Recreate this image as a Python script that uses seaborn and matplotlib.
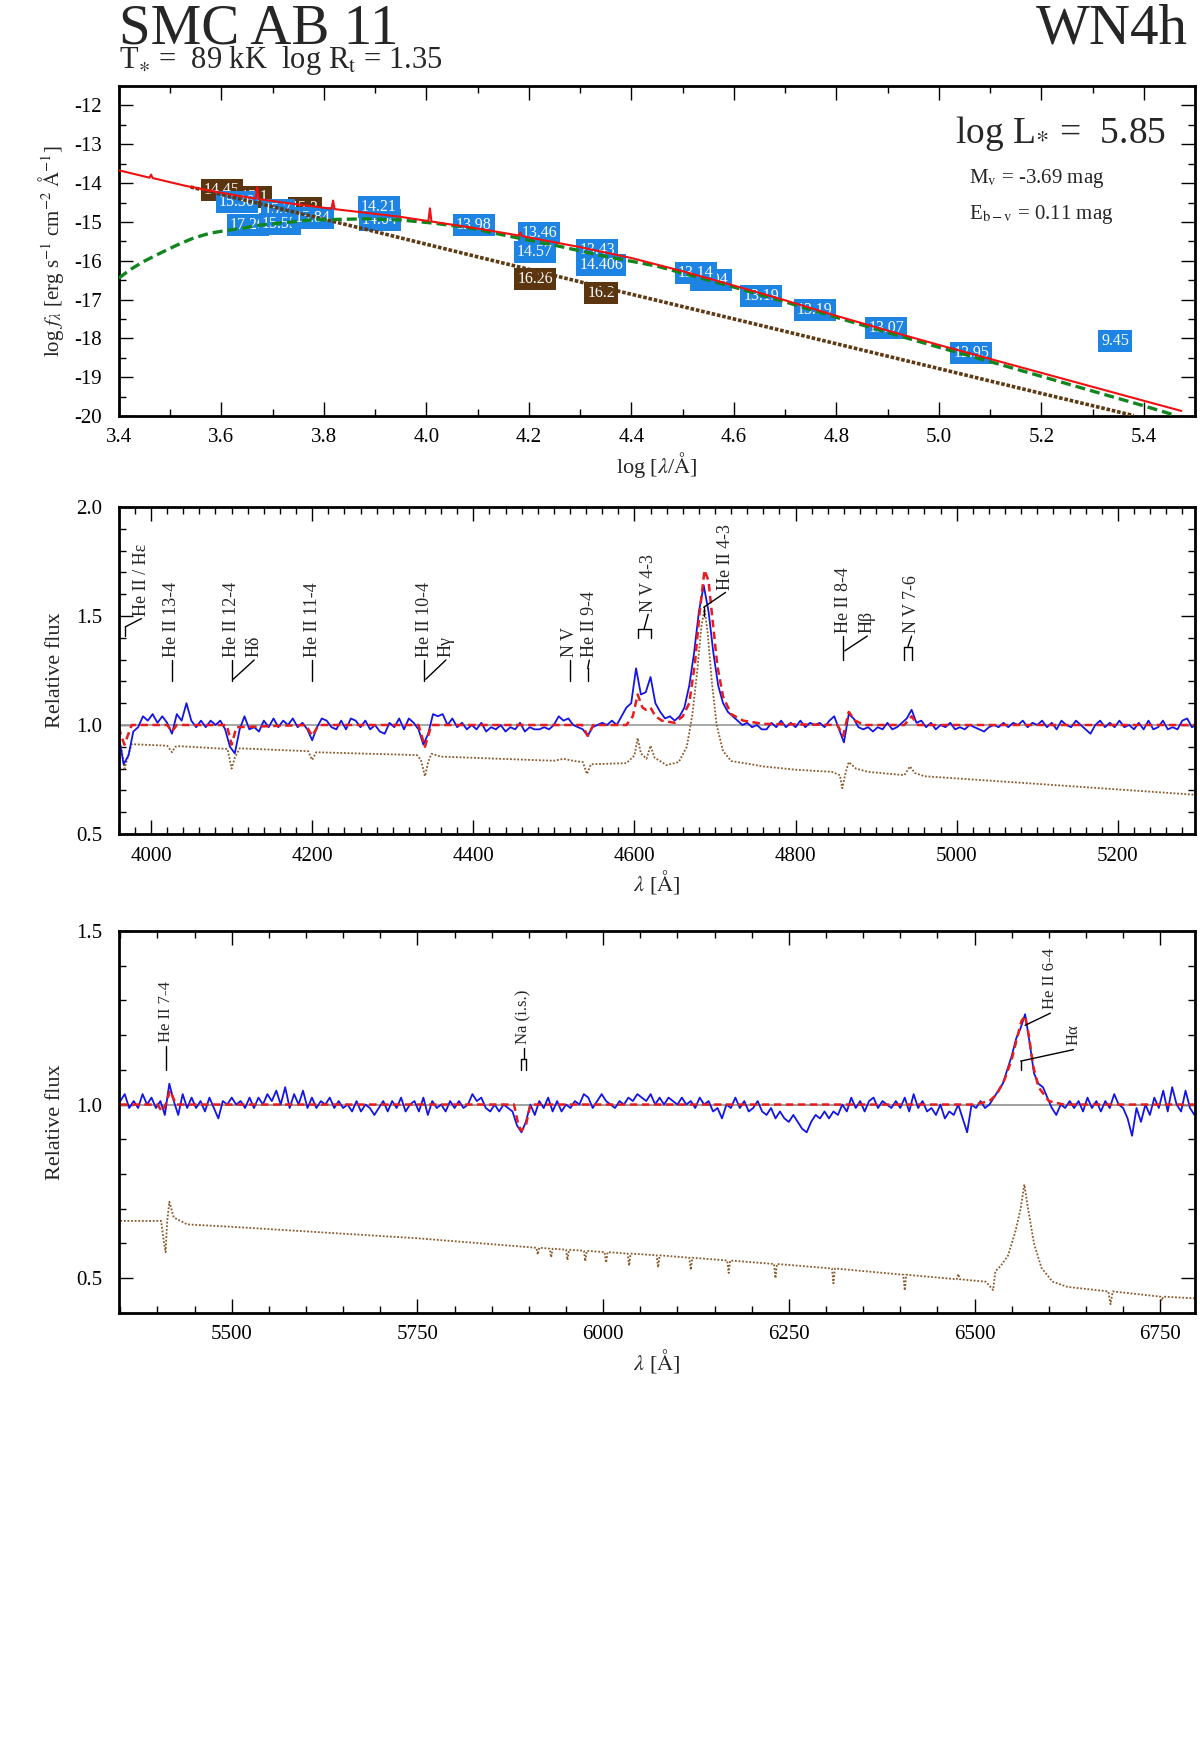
import numpy as np
import pandas as pd
import matplotlib
matplotlib.use("Agg")
import matplotlib.pyplot as plt
from matplotlib.ticker import MultipleLocator
import seaborn as sns

# ---------------- top panel: SED ----------------
red_logl = [3.40, 3.46, 3.463, 3.466, 3.53, 3.60, 3.667, 3.670, 3.673, 3.72, 3.815, 3.818,
            3.821, 3.95, 4.00, 4.004, 4.007, 4.010, 4.10, 4.18, 4.183, 4.186, 4.20, 4.30,
            4.40, 4.50, 4.60, 4.70, 4.80, 4.90, 5.00, 5.10, 5.20, 5.30, 5.40, 5.473]
red_logf = [-13.67, -13.86, -13.78, -13.87, -14.07, -14.25, -14.40, -14.10, -14.41, -14.50, -14.66, -14.45,
            -14.67, -14.87, -14.97, -14.98, -14.65, -14.99, -15.17, -15.35, -15.27, -15.36, -15.40, -15.65,
            -15.93, -16.27, -16.64, -17.02, -17.42, -17.80, -18.17, -18.53, -18.89, -19.25, -19.61, -19.87]

green_logl = [3.40, 3.421, 3.447, 3.48, 3.513, 3.545, 3.578, 3.61, 3.643, 3.676, 3.708, 3.773,
              3.884, 3.95, 4.013, 4.079, 4.177, 4.25, 4.339, 4.45, 4.60, 4.70, 4.80, 4.90,
              5.00, 5.10, 5.20, 5.30, 5.40, 5.46]
green_logf = [-16.45, -16.24, -16.03, -15.81, -15.60, -15.42, -15.29, -15.22, -15.16, -15.08, -15.04, -14.95,
              -14.92, -14.95, -15.03, -15.14, -15.41, -15.60, -15.86, -16.14, -16.68, -17.06, -17.46, -17.85,
              -18.23, -18.60, -18.98, -19.36, -19.74, -19.98]

brown_logl = [3.54, 3.70, 3.90, 4.10, 4.336, 4.60, 4.80, 5.00, 5.20, 5.38]
brown_logf = [-14.10, -14.61, -15.25, -15.90, -16.66, -17.50, -18.14, -18.78, -19.42, -19.99]

# photometry boxes (magnitudes), in draw order
box_logl = [3.601, 3.665, 3.630, 3.763, 3.710, 3.652, 3.714, 3.779, 3.909, 3.907, 4.093,
            4.220, 4.212, 4.212, 4.333, 4.341, 4.341, 4.555, 4.526, 4.653, 4.758, 4.897,
            5.063, 5.344]
box_logf = [-14.18, -14.36, -14.49, -14.64, -14.69, -15.08, -15.05, -14.90, -14.95, -14.62, -15.08,
            -15.29, -15.78, -16.47, -15.72, -16.11, -16.83, -16.50, -16.32, -16.91, -17.27, -17.73,
            -18.38, -18.07]
box_txt = ["14.45", "15.1", "15.36", "15.2", "15.7", "17.26", "15.55", "15.84", "14.04", "14.21", "13.98",
           "13.46", "14.57", "16.26", "13.43", "14.406", "16.2", "13.04", "13.14", "13.19", "13.19", "13.07",
           "12.95", "9.45"]
box_kind = ["b", "b", "o", "b", "o", "o", "o", "o", "o", "o", "o",
            "o", "o", "b", "o", "o", "b", "o", "o", "o", "o", "o",
            "o", "o"]

# ---------------- middle panel: 3960-5300 A ----------------
mid_start, mid_step = 3960, 6
mid_obs = [0.95, 0.82, 0.86, 0.97, 0.99, 1.04, 1.02, 1.05, 1.01, 1.04,
           1.01, 0.96, 1.05, 1.02, 1.10, 1.02, 0.99, 1.02, 0.99, 1.02,
           1.00, 1.02, 0.98, 0.90, 0.87, 0.98, 1.04, 0.98, 0.99, 0.97,
           1.02, 0.99, 1.03, 0.99, 1.02, 1.00, 1.03, 0.99, 1.01, 0.98,
           0.93, 0.99, 1.03, 1.02, 0.99, 0.98, 1.02, 0.98, 1.03, 1.02,
           0.99, 1.02, 0.98, 1.00, 0.97, 0.96, 1.01, 0.99, 1.03, 0.98,
           1.03, 1.01, 0.98, 0.91, 0.96, 1.05, 1.04, 1.05, 1.00, 1.03,
           0.99, 1.01, 0.98, 1.00, 0.98, 1.01, 0.97, 0.99, 0.98, 1.00,
           0.97, 0.99, 0.98, 1.01, 0.97, 0.99, 0.98, 0.98, 0.99, 0.98,
           1.00, 1.04, 1.02, 1.03, 1.00, 0.99, 0.98, 0.95, 0.99, 1.00,
           1.01, 1.00, 1.02, 1.00, 1.04, 1.08, 1.10, 1.26, 1.14, 1.15,
           1.22, 1.10, 1.06, 1.03, 1.04, 1.02, 1.04, 1.08, 1.18, 1.33,
           1.52, 1.64, 1.52, 1.33, 1.18, 1.10, 1.06, 1.04, 1.02, 1.00,
           1.01, 0.99, 1.00, 0.98, 0.98, 1.01, 0.99, 1.02, 0.99, 1.01,
           0.99, 1.02, 0.99, 1.01, 1.00, 1.01, 0.99, 1.02, 1.04, 0.98,
           0.92, 1.05, 1.03, 0.99, 0.98, 0.99, 0.97, 0.99, 0.98, 1.01,
           0.98, 0.99, 1.01, 1.03, 1.07, 1.01, 1.02, 0.99, 1.01, 0.98,
           1.00, 0.99, 1.01, 0.98, 0.99, 0.98, 1.00, 0.99, 0.98, 0.97,
           0.99, 1.00, 0.99, 1.01, 0.99, 1.01, 1.00, 1.02, 0.99, 1.01,
           1.00, 1.02, 0.99, 1.01, 0.98, 1.02, 1.00, 0.99, 1.02, 1.00,
           0.98, 0.96, 1.00, 1.02, 0.99, 1.01, 0.99, 1.02, 0.99, 1.00,
           0.98, 1.01, 0.98, 1.02, 0.98, 0.99, 1.02, 0.98, 0.99, 0.98,
           1.02, 1.03, 0.99, 1.00]

mid_mod_wl = [3960, 3963, 3967, 3971, 3976, 4020, 4026, 4032, 4094, 4100, 4106, 4192, 4200,
              4208, 4332, 4340, 4348, 4535, 4542, 4549, 4590, 4598, 4604, 4610, 4614, 4620,
              4626, 4634, 4650, 4660, 4668, 4675, 4681, 4687, 4692, 4697, 4703, 4710, 4720,
              4735, 4760, 4852, 4859, 4866, 4874, 4885, 4935, 4944, 4952, 5296]
mid_mod_f = [0.99, 0.95, 0.91, 0.95, 1.0, 1.0, 0.97, 1.0, 1.0, 0.91, 0.99, 1.0, 0.95,
             1.0, 1.0, 0.90, 1.0, 1.0, 0.95, 1.0, 1.0, 1.04, 1.14, 1.08, 1.07, 1.08,
             1.04, 1.02, 1.01, 1.04, 1.10, 1.28, 1.52, 1.71, 1.66, 1.48, 1.27, 1.13, 1.05,
             1.02, 1.005, 1.0, 0.95, 1.06, 1.02, 1.0, 1.0, 1.04, 1.0, 1.0]

mid_star_wl = [3960, 3963, 3967, 3971, 3976, 4020, 4023, 4026, 4030, 4035, 4095, 4100, 4104,
               4110, 4195, 4200, 4205, 4330, 4335, 4340, 4344, 4348, 4360, 4500, 4512, 4525,
               4536, 4541, 4546, 4590, 4600, 4604, 4608, 4615, 4620, 4625, 4640, 4655, 4665,
               4672, 4678, 4683, 4687, 4691, 4696, 4702, 4710, 4720, 4760, 4800, 4845, 4855,
               4858, 4862, 4866, 4875, 4890, 4935, 4942, 4948, 4960, 5100, 5296]
mid_star_f = [0.915, 0.90, 0.80, 0.85, 0.912, 0.905, 0.89, 0.875, 0.90, 0.903, 0.89, 0.80, 0.85,
              0.893, 0.88, 0.84, 0.875, 0.862, 0.84, 0.765, 0.83, 0.868, 0.855, 0.836, 0.845, 0.835,
              0.83, 0.775, 0.82, 0.825, 0.86, 0.94, 0.87, 0.845, 0.905, 0.85, 0.816, 0.83, 0.90,
              1.05, 1.25, 1.45, 1.53, 1.42, 1.20, 1.00, 0.88, 0.835, 0.81, 0.795, 0.785, 0.77,
              0.71, 0.78, 0.83, 0.80, 0.785, 0.77, 0.81, 0.78, 0.765, 0.73, 0.68]

# ---------------- bottom panel: 5350-6800 A ----------------
bot_start, bot_step = 5350, 6
bot_obs = [1.01, 1.03, 0.99, 1.01, 0.99, 1.03, 1.00, 1.02, 0.99, 1.01,
           0.97, 1.06, 1.01, 0.97, 1.03, 0.99, 1.02, 0.99, 1.01, 0.98,
           1.02, 0.99, 0.96, 1.01, 1.00, 1.02, 1.00, 1.01, 0.99, 1.02,
           0.99, 1.02, 1.00, 1.03, 1.01, 1.04, 1.00, 1.05, 0.99, 1.03,
           1.00, 1.04, 0.99, 1.02, 0.99, 1.01, 1.00, 1.02, 0.99, 1.01,
           0.99, 1.00, 0.98, 1.01, 0.98, 1.00, 0.99, 0.97, 0.99, 1.01,
           0.98, 1.01, 0.99, 1.02, 0.98, 1.00, 1.01, 0.98, 1.02, 0.97,
           1.01, 0.99, 1.00, 0.98, 1.01, 0.99, 1.01, 0.99, 1.00, 1.03,
           1.01, 1.02, 0.99, 0.98, 1.00, 0.98, 1.00, 0.99, 0.98, 0.94,
           0.92, 0.95, 1.00, 0.97, 1.01, 0.99, 1.02, 0.98, 1.01, 0.98,
           1.00, 0.99, 1.01, 1.00, 1.03, 1.02, 0.99, 1.01, 1.03, 1.01,
           1.00, 0.99, 1.01, 1.00, 1.02, 1.01, 1.03, 1.02, 1.01, 1.03,
           1.00, 1.02, 1.00, 1.02, 1.01, 1.00, 1.02, 1.00, 1.01, 0.99,
           1.02, 1.00, 1.01, 0.98, 0.99, 0.96, 1.00, 0.99, 1.02, 0.99,
           1.01, 0.98, 0.99, 1.01, 0.98, 0.97, 0.99, 0.96, 0.98, 0.96,
           0.95, 0.97, 0.95, 0.93, 0.92, 0.95, 0.97, 0.96, 0.98, 0.96,
           0.98, 0.97, 1.00, 0.98, 1.02, 0.99, 1.01, 0.98, 1.01, 1.02,
           0.99, 1.01, 1.00, 0.99, 1.01, 0.99, 1.02, 0.98, 1.03, 0.99,
           1.01, 0.98, 0.99, 0.97, 1.00, 0.96, 0.98, 0.97, 1.00, 0.96,
           0.92, 1.00, 0.99, 1.01, 0.99, 1.00, 1.02, 1.04, 1.06, 1.10,
           1.14, 1.19, 1.22, 1.26, 1.18, 1.09, 1.06, 1.05, 1.02, 0.99,
           0.97, 1.00, 0.99, 1.01, 0.99, 1.01, 0.98, 1.02, 0.99, 1.01,
           0.98, 1.01, 0.99, 1.03, 1.00, 0.99, 0.96, 0.91, 0.99, 0.95,
           1.00, 0.97, 1.02, 0.99, 1.04, 0.98, 1.05, 1.00, 0.98, 1.04,
           0.99, 0.97]

bot_mod_wl = [5350, 5400, 5406, 5411, 5417, 5425, 5880, 5886, 5890, 5896, 5902, 6500, 6520,
              6530, 6540, 6550, 6557, 6563, 6568, 6573, 6579, 6586, 6600, 6620, 6797]
bot_mod_f = [1.0, 1.0, 0.98, 1.0, 1.04, 1.0, 1.0, 0.94, 0.925, 0.94, 1.0, 1.0, 1.01,
             1.03, 1.07, 1.13, 1.19, 1.24, 1.255, 1.20, 1.11, 1.05, 1.01, 1.0, 1.0]

bot_star_wl = [5350, 5405, 5409, 5411, 5413, 5416, 5422, 5440, 5500, 5750, 5908, 5910, 5912,
               5914, 5928, 5930, 5932, 5950, 5952, 5954, 5974, 5976, 5978, 6002, 6004, 6006,
               6033, 6035, 6037, 6072, 6074, 6076, 6116, 6118, 6120, 6167, 6169, 6171, 6230,
               6232, 6234, 6308, 6310, 6312, 6404, 6406, 6408, 6476, 6478, 6480, 6515, 6525,
               6528, 6535, 6545, 6555, 6562, 6567, 6572, 6580, 6590, 6605, 6625, 6680, 6683,
               6686, 6750, 6752, 6754, 6797]
bot_star_f = [0.665, 0.665, 0.60, 0.575, 0.66, 0.72, 0.675, 0.655, 0.648, 0.615, 0.588, 0.588, 0.568,
              0.588, 0.585, 0.56, 0.585, 0.582, 0.552, 0.582, 0.579, 0.549, 0.579, 0.575, 0.545, 0.575,
              0.571, 0.536, 0.571, 0.566, 0.531, 0.566, 0.559, 0.524, 0.559, 0.551, 0.515, 0.551, 0.541,
              0.50, 0.541, 0.528, 0.485, 0.528, 0.51, 0.465, 0.51, 0.497, 0.512, 0.497, 0.49, 0.466,
              0.52, 0.535, 0.565, 0.635, 0.70, 0.77, 0.70, 0.60, 0.53, 0.49, 0.475, 0.462, 0.425,
              0.462, 0.447, 0.435, 0.447, 0.442]

# line identifications: text, line wavelengths, tick low, tick high, text x, text bottom
mid_marks = [
    ("He II / H\u03b5", [3968], 1.41, 1.45, 3988, 1.50),
    ("He II 13-4", [4026], 1.20, 1.28, 4026, 1.31),
    ("He II 12-4", [4100], 1.20, 1.28, 4100, 1.31),
    ("H\u03b4", [4102], 1.21, 1.21, 4128, 1.31),
    ("He II 11-4", [4200], 1.20, 1.28, 4200, 1.31),
    ("He II 10-4", [4339], 1.20, 1.28, 4339, 1.31),
    ("H\u03b3", [4341], 1.21, 1.21, 4366, 1.31),
    ("N V", [4520], 1.20, 1.27, 4520, 1.31),
    ("He II 9-4", [4542], 1.20, 1.26, 4544, 1.31),
    ("N V 4-3", [4604, 4620], 1.40, 1.44, 4617, 1.52),
    ("He II 4-3", [4686], 1.50, 1.54, 4713, 1.62),
    ("He II 8-4", [4859], 1.30, 1.375, 4859, 1.42),
    ("H\u03b2", [4861], 1.34, 1.34, 4889, 1.42),
    ("N V 7-6", [4934, 4945], 1.30, 1.36, 4944, 1.42),
]
bot_marks = [
    ("He II 7-4", [5411], 1.10, 1.16, 5411, 1.18),
    ("Na (i.s.)", [5890, 5896], 1.10, 1.13, 5893, 1.175),
    ("He II 6-4", [6568], 1.228, 1.228, 6602, 1.275),
    ("H\u03b1", [6562], 1.10, 1.125, 6633, 1.17),
]

sns.set_theme(style="ticks")
plt.rcParams["font.family"] = ["Liberation Serif", "DejaVu Serif"]
plt.rcParams["mathtext.fontset"] = "stix"
plt.rcParams["axes.unicode_minus"] = False

C_OBS = "#1414e6"
C_MOD = "#e81c1c"
C_STAR = "#8b5a2b"


def style_axis(ax):
    for s in ax.spines.values():
        s.set_linewidth(2.0)
        s.set_color("black")
    ax.tick_params(which="both", direction="in", top=True, right=True, colors="black",
                   labelsize=15, width=1.0)
    ax.tick_params(which="major", length=10)
    ax.tick_params(which="minor", length=5)
    ax.tick_params(axis="x", pad=9)
    ax.tick_params(axis="y", pad=12)
    ax.set_facecolor("white")


def draw_marks(ax, marks, fs):
    for txt, lines, y0, y1, tx, ty in marks:
        for lam in lines:
            ax.plot([lam, lam], [y0, y1], color="black", lw=1.0)
        if len(lines) > 1:
            ax.plot([min(lines), max(lines)], [y1, y1], color="black", lw=1.0)
        ax.plot([np.mean(lines), tx], [y1, ty - 0.012], color="black", lw=1.0)
        ax.text(tx, ty, txt, rotation=90, ha="center", va="bottom", fontsize=fs)


fig = plt.figure(figsize=(12, 17.64), dpi=100)
fig.patch.set_facecolor("white")

# ---- top panel
ax1 = fig.add_axes([0.099, 0.7642, 0.897, 0.187])
style_axis(ax1)
for i in range(len(box_txt)):
    fc = "#5b3510" if box_kind[i] == "b" else "#1e84e4"
    ax1.text(box_logl[i], box_logf[i], box_txt[i], ha="center", va="center", fontsize=11.5,
             color="white", zorder=2,
             bbox=dict(boxstyle="square,pad=0.2", fc=fc, ec="none"))
sns.lineplot(x=brown_logl, y=brown_logf, ax=ax1, color="#5e3a14", lw=2.6,
             linestyle=(0, (1, 0.5)), legend=False, zorder=3)
sns.lineplot(x=green_logl, y=green_logf, ax=ax1, color="#12861e", lw=2.4,
             linestyle=(0, (3, 1.5)), legend=False, zorder=4)
sns.lineplot(x=red_logl, y=red_logf, ax=ax1, color="#f01010", lw=1.5, legend=False, zorder=5)
ax1.set_xlim(3.4, 5.5)
ax1.set_ylim(-20, -11.5)
ax1.xaxis.set_major_locator(MultipleLocator(0.2))
ax1.xaxis.set_minor_locator(MultipleLocator(0.1))
ax1.yaxis.set_major_locator(MultipleLocator(1))
ax1.yaxis.set_minor_locator(MultipleLocator(0.5))
ax1.xaxis.set_major_formatter(plt.FuncFormatter(lambda v, p: f"{v:.1f}"))
ax1.set_xlabel(r"log [$\lambda$/$\mathrm{\AA}$]", fontsize=16, labelpad=2)
ax1.set_ylabel(r"log $f_\lambda$ [erg s$^{-1}$ cm$^{-2}$ $\mathrm{\AA}^{-1}$]", fontsize=15, labelpad=6)
ax1.text(0.973, 0.827, r"log L$_{*}$ =  5.85", transform=ax1.transAxes, ha="right",
         va="baseline", fontsize=27)
ax1.text(0.79, 0.706, r"M$_\mathrm{v}$ = -3.69 mag", transform=ax1.transAxes, ha="left",
         va="baseline", fontsize=15)
ax1.text(0.79, 0.597, r"E$_\mathrm{b-v}$ = 0.11 mag", transform=ax1.transAxes, ha="left",
         va="baseline", fontsize=15)

# ---- middle panel
ax2 = fig.add_axes([0.099, 0.5272, 0.897, 0.1854])
style_axis(ax2)
mid_wl = mid_start + mid_step * np.arange(len(mid_obs))
ax2.axhline(1.0, color="#a0a0a0", lw=1.3, zorder=1)
sns.lineplot(x=mid_star_wl, y=mid_star_f, ax=ax2, color=C_STAR, lw=1.3,
             linestyle=(0, (1, 1)), legend=False)
sns.lineplot(x=mid_wl, y=mid_obs, ax=ax2, color=C_OBS, lw=1.3, legend=False)
sns.lineplot(x=mid_mod_wl, y=mid_mod_f, ax=ax2, color=C_MOD, lw=1.8,
             linestyle=(0, (3, 1.8)), legend=False)
draw_marks(ax2, mid_marks, 13)
ax2.set_xlim(3960, 5296)
ax2.set_ylim(0.5, 2.0)
ax2.xaxis.set_major_locator(MultipleLocator(200))
ax2.xaxis.set_minor_locator(MultipleLocator(20))
ax2.yaxis.set_major_locator(MultipleLocator(0.5))
ax2.yaxis.set_minor_locator(MultipleLocator(0.1))
ax2.yaxis.set_major_formatter(plt.FuncFormatter(lambda v, p: f"{v:.1f}"))
ax2.set_xlabel(r"$\lambda$ [$\mathrm{\AA}$]", fontsize=16, labelpad=2)
ax2.set_ylabel("Relative flux", fontsize=16, labelpad=8)

# ---- bottom panel
ax3 = fig.add_axes([0.099, 0.2557, 0.897, 0.2166])
style_axis(ax3)
bot_wl = bot_start + bot_step * np.arange(len(bot_obs))
ax3.axhline(1.0, color="#909090", lw=1.2, zorder=1)
sns.lineplot(x=bot_star_wl, y=bot_star_f, ax=ax3, color=C_STAR, lw=1.3,
             linestyle=(0, (1, 1)), legend=False)
sns.lineplot(x=bot_wl, y=bot_obs, ax=ax3, color=C_OBS, lw=1.3, legend=False)
sns.lineplot(x=bot_mod_wl, y=bot_mod_f, ax=ax3, color=C_MOD, lw=1.8,
             linestyle=(0, (3, 1.8)), legend=False)
draw_marks(ax3, bot_marks, 12)
ax3.set_xlim(5348, 6797)
ax3.set_ylim(0.40, 1.50)
ax3.xaxis.set_major_locator(MultipleLocator(250))
ax3.xaxis.set_minor_locator(MultipleLocator(50))
ax3.yaxis.set_major_locator(MultipleLocator(0.5))
ax3.yaxis.set_minor_locator(MultipleLocator(0.1))
ax3.yaxis.set_major_formatter(plt.FuncFormatter(lambda v, p: f"{v:.1f}"))
ax3.set_xlabel(r"$\lambda$ [$\mathrm{\AA}$]", fontsize=16, labelpad=2)
ax3.set_ylabel("Relative flux", fontsize=16, labelpad=8)

# ---- header
fig.text(0.099, 0.9756, "SMC AB 11", fontsize=41, ha="left", va="baseline")
fig.text(0.99, 0.9756, "WN4h", fontsize=41, ha="right", va="baseline")
fig.text(0.099, 0.9612, r"T$_{\ast}$ =  89 kK  log R$_\mathrm{t}$ = 1.35", fontsize=22,
         ha="left", va="baseline")

fig.savefig("out.png", dpi=100, facecolor="white")
